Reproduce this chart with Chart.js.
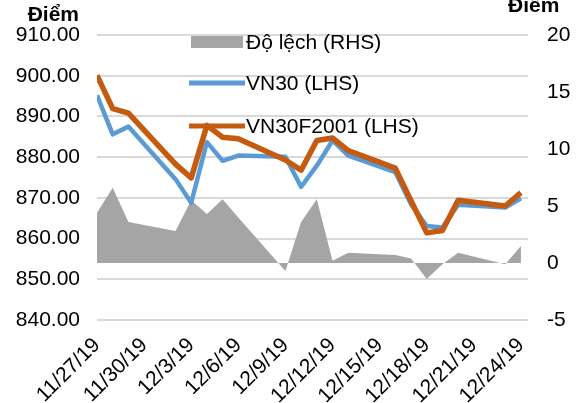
<!DOCTYPE html>
<html>
<head>
<meta charset="utf-8">
<script src="https://cdn.jsdelivr.net/npm/chart.js@4"></script>
<style>
  body { margin: 0; background: #fff; }
  canvas { display: block; }
</style>
</head>
<body>
<canvas id="basis_chart" width="579" height="403"></canvas>
<script>
// Trading days (date axis, weekends are gaps)
const dates = ['11/27/19', '11/28/19', '11/29/19', '12/2/19', '12/3/19', '12/4/19', '12/5/19',
    '12/6/19', '12/9/19', '12/10/19', '12/11/19', '12/12/19', '12/13/19', '12/16/19',
    '12/17/19', '12/18/19', '12/19/19', '12/20/19', '12/23/19', '12/24/19'];
const vn30 = [895.2, 885.6, 887.5, 874.6, 868.8, 883.7, 879.1, 880.4, 880.1, 872.7,
    877.9, 884.1, 880.4, 876.3, 868.4, 863.1, 862.7, 868.3, 867.6, 869.9];
const vn30f2001 = [900.1, 891.9, 890.8, 878.3, 874.9, 887.8, 884.9, 884.5, 879.3, 876.8,
    884.1, 884.7, 881.6, 877.3, 869.3, 861.4, 862.0, 869.4, 868.0, 871.3];
const basis = [4.4, 6.6, 3.6, 2.8, 5.5, 4.3, 5.6, 4.0, -0.7, 3.6,
    5.6, 0.2, 0.9, 0.7, 0.4, -1.4, -0.1, 0.9, -0.1, 1.5];
const xTickLabels = ['11/27/19', '11/30/19', '12/3/19', '12/6/19', '12/9/19',
    '12/12/19', '12/15/19', '12/18/19', '12/21/19', '12/24/19'];
const seriesLabels = ['Độ lệch (RHS)', 'VN30 (LHS)', 'VN30F2001 (LHS)'];

const FONT = '"Liberation Sans", Arial, sans-serif';
Chart.defaults.font.family = FONT;
Chart.defaults.font.size = 21;
Chart.defaults.color = '#000';

// day number counted from the first date
const toDay = (s) => {
    const [m, d, y] = s.split('/').map(Number);
    return Date.UTC(2000 + y, m - 1, d) / 864e5;
};
const day0 = toDay(dates[0]);
const xs = dates.map(s => toDay(s) - day0);
const points = (arr) => arr.map((v, i) => ({ x: xs[i], y: v }));

const gridColor = '#d9d9d9';
const legendRows = [42, 83, 126];

// Excel style legend sitting inside the plot, plus the two "Điểm" unit labels
const insideLegend = {
    id: 'insideLegend',
    afterDraw(chart) {
        const ctx = chart.ctx;
        ctx.save();
        chart.data.datasets.forEach((ds, i) => {
            const y = legendRows[i];
            if (ds.fill) {
                ctx.fillStyle = ds.backgroundColor;
                ctx.fillRect(191, y - 6, 52, 12);
            } else {
                ctx.strokeStyle = ds.borderColor;
                ctx.lineWidth = 5;
                ctx.beginPath();
                ctx.moveTo(189, y);
                ctx.lineTo(245, y);
                ctx.stroke();
            }
            ctx.font = '21px ' + FONT;
            ctx.fillStyle = '#000';
            ctx.textAlign = 'left';
            ctx.textBaseline = 'middle';
            ctx.fillText(ds.label, 246, y + 1);
        });
        ctx.font = 'bold 21px ' + FONT;
        ctx.textBaseline = 'alphabetic';
        ctx.textAlign = 'right';
        ctx.fillText('Điểm', 79, 21);
        ctx.textAlign = 'left';
        ctx.fillText('Điểm', 508, 12);
        ctx.restore();
    }
};

new Chart(document.getElementById('basis_chart'), {
    type: 'line',
    data: {
        datasets: [
            {
                label: seriesLabels[0],
                data: points(basis),
                yAxisID: 'y2',
                fill: 'origin',
                backgroundColor: '#a5a5a5',
                borderWidth: 0,
                pointRadius: 0,
                order: 3
            },
            {
                label: seriesLabels[1],
                data: points(vn30),
                yAxisID: 'y',
                borderColor: '#5b9bd5',
                borderWidth: 4.5,
                borderJoinStyle: 'round',
                pointRadius: 0,
                order: 2
            },
            {
                label: seriesLabels[2],
                data: points(vn30f2001),
                yAxisID: 'y',
                borderColor: '#c55a11',
                borderWidth: 5.5,
                borderJoinStyle: 'round',
                pointRadius: 0,
                order: 1
            }
        ]
    },
    options: {
        responsive: false,
        animation: false,
        layout: { padding: { top: 35, left: 0, right: 0, bottom: 0 } },
        scales: {
            x: {
                type: 'linear',
                min: 0,
                max: 27.45,
                grid: { display: false, drawTicks: false },
                border: { display: false },
                ticks: {
                    stepSize: 3,
                    includeBounds: false,
                    autoSkip: false,
                    minRotation: 45,
                    maxRotation: 45,
                    padding: 13,
                    callback: (v) => xTickLabels[Math.round(v / 3)]
                },
                afterFit: (scale) => { scale.height = 83; }
            },
            y: {
                position: 'left',
                min: 840,
                max: 910,
                grid: { color: gridColor, lineWidth: 2, drawTicks: false },
                border: { display: false },
                ticks: {
                    stepSize: 10,
                    padding: 17,
                    callback: (v) => v.toFixed(2)
                },
                afterFit: (scale) => { scale.width = 97; }
            },
            y2: {
                position: 'right',
                min: -5,
                max: 20,
                grid: { display: false, drawTicks: false },
                border: { display: false },
                ticks: { stepSize: 5, padding: 19 },
                afterFit: (scale) => { scale.width = 51; }
            }
        },
        plugins: {
            legend: { display: false },
            tooltip: { enabled: false }
        }
    },
    plugins: [insideLegend]
});
</script>
</body>
</html>
